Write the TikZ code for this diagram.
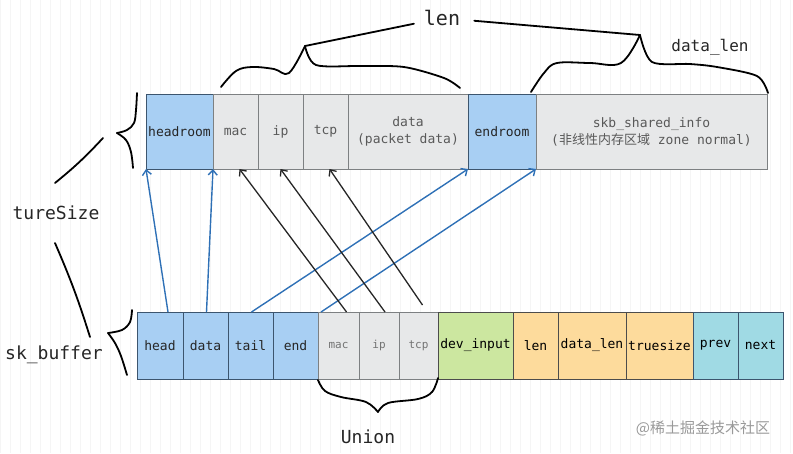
\documentclass[tikz,border=0pt]{standalone}
\usepackage{fontspec}
\setmonofont{DejaVu Sans Mono}
\newfontfamily\cjk{Noto Sans CJK SC}
\usetikzlibrary{arrows.meta,positioning}

\definecolor{roomblue}{RGB}{168,207,243}
\definecolor{roomline}{RGB}{60,85,110}
\definecolor{pktgray}{RGB}{231,232,233}
\definecolor{pktline}{RGB}{125,128,130}
\definecolor{devgreen}{RGB}{204,231,160}
\definecolor{lenorange}{RGB}{253,219,156}
\definecolor{listcyan}{RGB}{160,218,228}
\definecolor{ptrblue}{RGB}{46,112,182}

\begin{document}
\begin{tikzpicture}[x=1pt,y=-1pt,node distance=0pt,>={Straight Barb[length=5pt,width=9pt]}]
	\tikzstyle{field}=[draw,line width=0.9pt,inner sep=0pt,outer sep=0pt,font=\ttfamily\fontsize{13}{17}\selectfont,align=center]
	\tikzstyle{toprow}=[field,minimum height=75pt]
	\tikzstyle{botrow}=[field,minimum height=67pt]
	\tikzstyle{room}=[fill=roomblue,draw=roomline,text=black!85]
	\tikzstyle{pkt}=[fill=pktgray,draw=pktline,text=black!65]
	\tikzstyle{ptr}=[->,ptrblue,line width=1.4pt]
	\tikzstyle{hdr}=[->,black!85,line width=1.3pt]
	\tikzstyle{brace}=[line width=1.8pt,line cap=round,line join=round]
	\tikzstyle{lbl}=[inner sep=0pt,font=\ttfamily\fontsize{18}{20}\selectfont,text=black!85]
	\useasboundingbox (0,0) rectangle (793,453);
	\draw[black!4,step=10] (0,0) grid (793,453);

	% sk_buff data area
	\node[toprow,room,minimum width=67pt,anchor=north west] (hroom) at (146,94) {headroom};
	\node[toprow,pkt,minimum width=45pt] (tmac) [right=of hroom] {mac};
	\node[toprow,pkt,minimum width=45pt] (tip) [right=of tmac] {ip};
	\node[toprow,pkt,minimum width=45pt] (ttcp) [right=of tip] {tcp};
	\node[toprow,pkt,minimum width=120pt] (tdata) [right=of ttcp] {data\\(packet data)};
	\node[toprow,room,minimum width=68pt] (eroom) [right=of tdata] {endroom};
	\node[toprow,pkt,minimum width=231pt] (shinfo) [right=of eroom] {skb\_shared\_info\\({\cjk 非线性内存区域} zone normal)};

	% struct sk_buff
	\node[botrow,room,minimum width=46pt,anchor=north west] (head) at (137,312) {head};
	\node[botrow,room,minimum width=45pt] (bdata) [right=of head] {data};
	\node[botrow,room,minimum width=45pt] (tail) [right=of bdata] {tail};
	\node[botrow,room,minimum width=45pt] (bend) [right=of tail] {end};
	\node[botrow,pkt,minimum width=41pt,font=\ttfamily\fontsize{11}{13}\selectfont,text=black!55] (bmac) [right=of bend] {mac};
	\node[botrow,pkt,minimum width=40pt,font=\ttfamily\fontsize{11}{13}\selectfont,text=black!55] (bip) [right=of bmac] {ip};
	\node[botrow,pkt,minimum width=39pt,font=\ttfamily\fontsize{11}{13}\selectfont,text=black!55] (btcp) [right=of bip] {tcp};
	\node[botrow,fill=devgreen,draw=black!70,minimum width=75pt] (devin) [right=of btcp] {dev\_input};
	\node[botrow,fill=lenorange,draw=black!70,minimum width=45pt] (blen) [right=of devin] {len};
	\node[botrow,fill=lenorange,draw=black!70,minimum width=68pt] (dlen) [right=of blen] {data\_len};
	\node[botrow,fill=lenorange,draw=black!70,minimum width=67pt] (tsize) [right=of dlen] {truesize};
	\node[botrow,fill=listcyan,draw=roomline,minimum width=45pt] (prev) [right=of tsize] {prev};
	\node[botrow,fill=listcyan,draw=roomline,minimum width=45pt] (next) [right=of prev] {next};

	% pointers
	\draw[ptr] ([xshift=8pt]head.north) -- (hroom.south west);
	\draw[ptr] ([xshift=1pt]bdata.north) -- (hroom.south east);
	\draw[ptr] ([xshift=1pt]tail.north) -- (eroom.south west);
	\draw[ptr] ([xshift=3pt]bend.north east) -- (eroom.south east);
	\draw[hdr] ([xshift=8pt]bmac.north) -- ([xshift=4pt]tmac.south);
	\draw[hdr] ([xshift=6pt]bip.north) -- (tip.south);
	\draw[hdr] ([xshift=4pt,yshift=7pt]btcp.north) -- ([xshift=4pt]ttcp.south);

	% labels
	\node[lbl,font=\ttfamily\fontsize{20}{22}\selectfont] (len) at (442,18) {len};
	\node[lbl,font=\ttfamily\fontsize{16}{18}\selectfont] (dlenlbl) at (710,47) {data\_len};
	\node[lbl] (tsz) at (56,213) {tureSize};
	\node[lbl] (skb) at (54,355) {sk\_buffer};
	\node[lbl] (union) at (368,437) {Union};
	\node[inner sep=0pt,font=\cjk\fontsize{15}{17}\selectfont,text=black!40] (wm) at (703,428) {@稀土掘金技术社区};

	% braces
	\coordinate (lenpeak) at (305,46);
	\coordinate (dlpeak) at (640,35);
	\coordinate (tsa) at (103,138);
	\coordinate (tsb) at (55,183);
	\coordinate (skba) at (55,243);
	\coordinate (skbb) at (90,337);
	\draw[brace] plot[smooth,tension=0.6] coordinates {(221,87) (236,71) (252,67) (274,69) (289,73) (305,46)};
	\draw[brace] plot[smooth,tension=0.5] coordinates {(305,46) (316,65) (360,66) (404,67) (444,78) (460,88)};
	\draw[brace] plot[smooth,tension=0.6] coordinates {(531,92) (544,73) (557,63) (590,63) (621,63) (640,35)};
	\draw[brace] plot[smooth,tension=0.5] coordinates {(640,35) (652,62) (690,64) (717,67) (757,76) (768,93)};
	\draw[brace] plot[smooth,tension=0.6] coordinates {(137,93) (136,110) (134,123) (127,130) (117,133)};
	\draw[brace] plot[smooth,tension=0.6] coordinates {(117,133) (126,140) (131,152) (133,168)};
	\draw[brace] plot[smooth,tension=0.6] coordinates {(132,310) (130,322) (122,330) (108,333)};
	\draw[brace] plot[smooth,tension=0.6] coordinates {(108,333) (115,343) (121,356) (127,375)};
	\draw[brace] plot[smooth,tension=0.6] coordinates {(318,380) (325,391) (341,397) (366,402) (378,412)};
	\draw[brace] plot[smooth,tension=0.6] coordinates {(378,412) (388,403) (418,399) (432,392) (438,378)};
	\draw[brace,shorten >=10pt] (lenpeak) -- (len);
	\draw[brace,shorten <=14pt] (len) -- (dlpeak);
	\draw[brace] (tsa) to[bend left=4] (tsb);
	\draw[brace] (skba) to[bend left=3] (skbb);
\end{tikzpicture}
\end{document}
